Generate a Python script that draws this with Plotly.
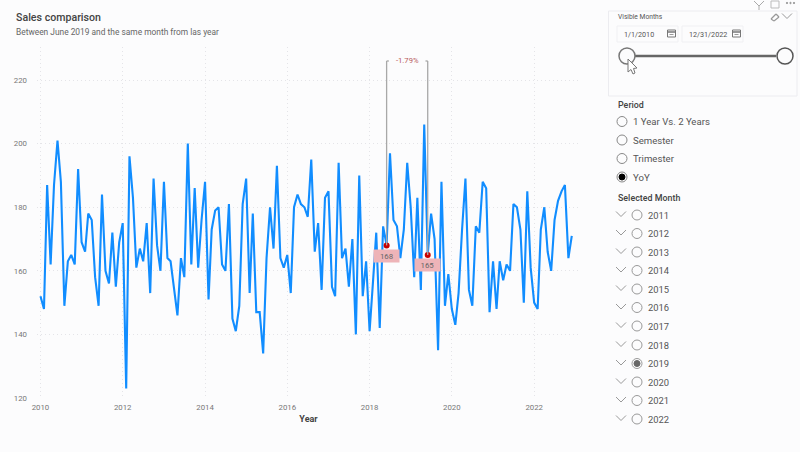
import pandas as pd
import plotly.graph_objects as go

title = "Sales comparison"
subtitle = "Between June 2019 and the same month from las year"
x_title = "Year"
months = pd.date_range("2010-01-01", periods=156, freq="MS")
sales = [
    152,148,187,162,187,201,188,149,163,165,162,192,
    169,166,178,176,158,149,184,160,156,172,155,169,
    175,123,196,183,161,167,163,175,153,189,168,160,
    188,164,163,155,146,164,158,200,162,186,161,176,
    188,151,173,179,180,162,160,181,145,141,149,181,
    189,153,178,147,147,134,164,180,167,193,164,161,
    165,153,180,184,181,180,177,195,166,175,154,183,
    185,155,152,194,164,167,155,170,140,190,152,163,
    141,157,172,142,174,168,197,176,174,164,173,194,
    180,158,183,154,206,165,178,170,135,188,149,159,
    148,143,153,173,189,154,149,174,172,188,186,147,
    163,148,163,157,162,160,181,180,173,150,185,161,
    150,148,173,180,166,160,176,182,185,187,164,171,
]
compare_idx = [101, 113]
compare_vals = [168, 165]
compare_text = "-1.79%"
y_ticks = [120, 140, 160, 180, 200, 220]
period_options = ["1 Year Vs. 2 Years", "Semester", "Trimester", "YoY"]
period_selected = "YoY"
year_options = [str(y) for y in range(2011, 2023)]
year_selected = "2019"
date_from, date_to = "1/1/2010", "12/31/2022"

L, R, T, B = 37, 580, 47, 398
W, H = 800, 452
BG = "#fcfcfd"
FONT = "Roboto"


def px(x):
    return (x - L) / (R - L)


def py(y):
    return (B - y) / (B - T)


shapes, notes = [], []


def text(x, y, s, size=10, color="#555555", anchor="left", family=FONT):
    notes.append(dict(x=px(x), y=py(y), xref="paper", yref="paper", text=s, showarrow=False,
                      xanchor=anchor, yanchor="middle", borderpad=0,
                      font=dict(family=family, size=size, color=color)))


def circle(cx, cy, r, line="#777777", fill=BG, width=1):
    shapes.append(dict(type="circle", xref="paper", yref="paper", x0=px(cx - r), x1=px(cx + r),
                       y0=py(cy + r), y1=py(cy - r), line=dict(color=line, width=width), fillcolor=fill))


def rect(x0, y0, x1, y1, line="#ececf0", fill="rgba(0,0,0,0)", width=1):
    shapes.append(dict(type="rect", xref="paper", yref="paper", x0=px(x0), x1=px(x1),
                       y0=py(y1), y1=py(y0), line=dict(color=line, width=width), fillcolor=fill))


def seg(x0, y0, x1, y1, color="#888888", width=1):
    shapes.append(dict(type="line", xref="paper", yref="paper", x0=px(x0), x1=px(x1),
                       y0=py(y0), y1=py(y1), line=dict(color=color, width=width)))


def chevron(cx, cy, color="#999999"):
    seg(cx - 5, cy - 2.5, cx, cy + 2.5, color=color)
    seg(cx, cy + 2.5, cx + 5, cy - 2.5, color=color)


def calendar(x, y):
    rect(x, y, x + 8, y + 7, line="#777777")
    seg(x, y + 2, x + 8, y + 2, color="#777777", width=1.5)
    seg(x + 2, y + 4.5, x + 6, y + 4.5, color="#999999")


# titles
text(15, 17, title, size=10.6, color="#444444", family="Roboto Medium, Roboto")
text(15, 31.5, subtitle, size=8.4, color="#666666")

# slicer panel
rect(608.5, 11, 797, 96)
text(617, 17, "Visible Months", size=6.7, color="#555555")
rect(617, 26, 678, 42, line="#f0f0f3")
rect(682, 26, 743, 42, line="#f0f0f3")
text(623, 34.5, date_from, size=7.2)
text(688, 34.5, date_to, size=7.2)
calendar(667.5, 30)
calendar(732.5, 30)
seg(635, 56, 776, 56, color="#666666", width=2.5)
circle(627, 56, 8, line="#777777", width=1.5)
circle(785, 56, 8, line="#555555", width=1.5)
# pointer
xs = [628, 628, 631, 633, 635, 633.5, 637, 628]
ys = [59, 72, 69.5, 74, 73, 68.5, 68, 59]
shapes.append(dict(type="path", xref="paper", yref="paper",
                   path="M " + " L ".join(f"{px(a):.5f},{py(b):.5f}" for a, b in zip(xs, ys)) + " Z",
                   line=dict(color="#777777", width=1), fillcolor="#ffffff"))
# header icons
seg(754, 1, 759, 6, color="#aaaaaa")
seg(764, 1, 759, 6, color="#aaaaaa")
seg(759, 6, 759, 10, color="#aaaaaa")
rect(771, 1, 779, 8, line="#bbbbbb")
for dx in (787, 790.5, 794):
    circle(dx, 3, 0.7, line="#999999", fill="#999999")
# eraser and chevron in slicer header
seg(771, 19, 776, 14, color="#999999", width=1.2)
seg(776, 14, 779, 17, color="#999999", width=1.2)
seg(779, 17, 774, 21, color="#999999", width=1.2)
seg(771, 19, 774, 21, color="#999999", width=1.2)
chevron(787, 16)

# period list
text(617, 105, "Period", size=8.9, color="#444444", family="Roboto Medium, Roboto")
for label, yy in zip(period_options, [121.5, 140, 158.5, 177]):
    circle(622, yy, 5, line="#888888")
    if label == period_selected:
        circle(622, yy, 3, line="#000000", fill="#000000")
    text(632, yy, label, size=9.6, color="#555555")

# selected month list
text(617, 198, "Selected Month", size=8.9, color="#444444", family="Roboto Medium, Roboto")
for label, yy in zip(year_options, [215, 233.5, 252, 270.5, 289, 307.5, 326, 345, 363.5, 382, 400.5, 419]):
    chevron(621, yy - 1)
    circle(637, yy, 5, line="#999999")
    if label == year_selected:
        circle(637, yy, 3, line="#666666", fill="#666666")
    text(647, yy, label, size=9.4, color="#555555")

fig = go.Figure()
fig.add_trace(go.Scatter(x=months, y=sales, mode="lines", line=dict(color="#118DFF", width=2.1), hoverinfo="skip"))

compare_dates = [months[i] for i in compare_idx]
bracket_y = 226
for d, v in zip(compare_dates, compare_vals):
    shapes.append(dict(type="line", xref="x", yref="y", x0=d, x1=d, y0=v, y1=bracket_y,
                       line=dict(color="#a8a8a8", width=1.3)))
    notes.append(dict(x=d, y=v, xref="x", yref="y", text=str(v), showarrow=False, yshift=-10.5,
                      bgcolor="#eeb4b8", borderpad=1.5, width=22, height=9,
                      font=dict(family=FONT, size=7.8, color="#666666")))
for d, side in zip(compare_dates, [1, -1]):
    shapes.append(dict(type="line", xref="x", yref="y", x0=d, x1=d + pd.Timedelta(days=20 * side),
                       y0=bracket_y, y1=bracket_y, line=dict(color="#a8a8a8", width=1.3)))
fig.add_trace(go.Scatter(x=compare_dates, y=compare_vals, mode="markers",
                         marker=dict(color="#c80000", size=6), hoverinfo="skip"))
notes.append(dict(x=months[107], y=bracket_y, xref="x", yref="y", text=compare_text, showarrow=False,
                  font=dict(family=FONT, size=7.6, color="#b85a5a")))

grid = dict(showgrid=True, gridcolor="#e4e4e8", griddash="1px 3px", gridwidth=1, zeroline=False, showline=False)
fig.update_layout(
    width=W, height=H, margin=dict(l=L, r=W - R, t=T, b=H - B, pad=0),
    paper_bgcolor=BG, plot_bgcolor=BG, showlegend=False, shapes=shapes, annotations=notes,
    font=dict(family=FONT, size=8, color="#777777"),
    xaxis=dict(range=["2009-12-01", "2023-02-12"], tick0="2010-01-01", dtick="M24", tickformat="%Y",
               ticklabelstandoff=3, title=dict(text=f"<b>{x_title}</b>", font=dict(size=9, color="#444444"), standoff=4),
               tickfont=dict(size=7.8, color="#777777"), **grid),
    yaxis=dict(range=[120, 230.4], tickvals=y_ticks, ticklabelstandoff=9,
               tickfont=dict(size=7.8, color="#777777"), **grid),
)
fig.write_html("out.html", post_script="document.body.style.margin='0';", config=dict(displayModeBar=False))
